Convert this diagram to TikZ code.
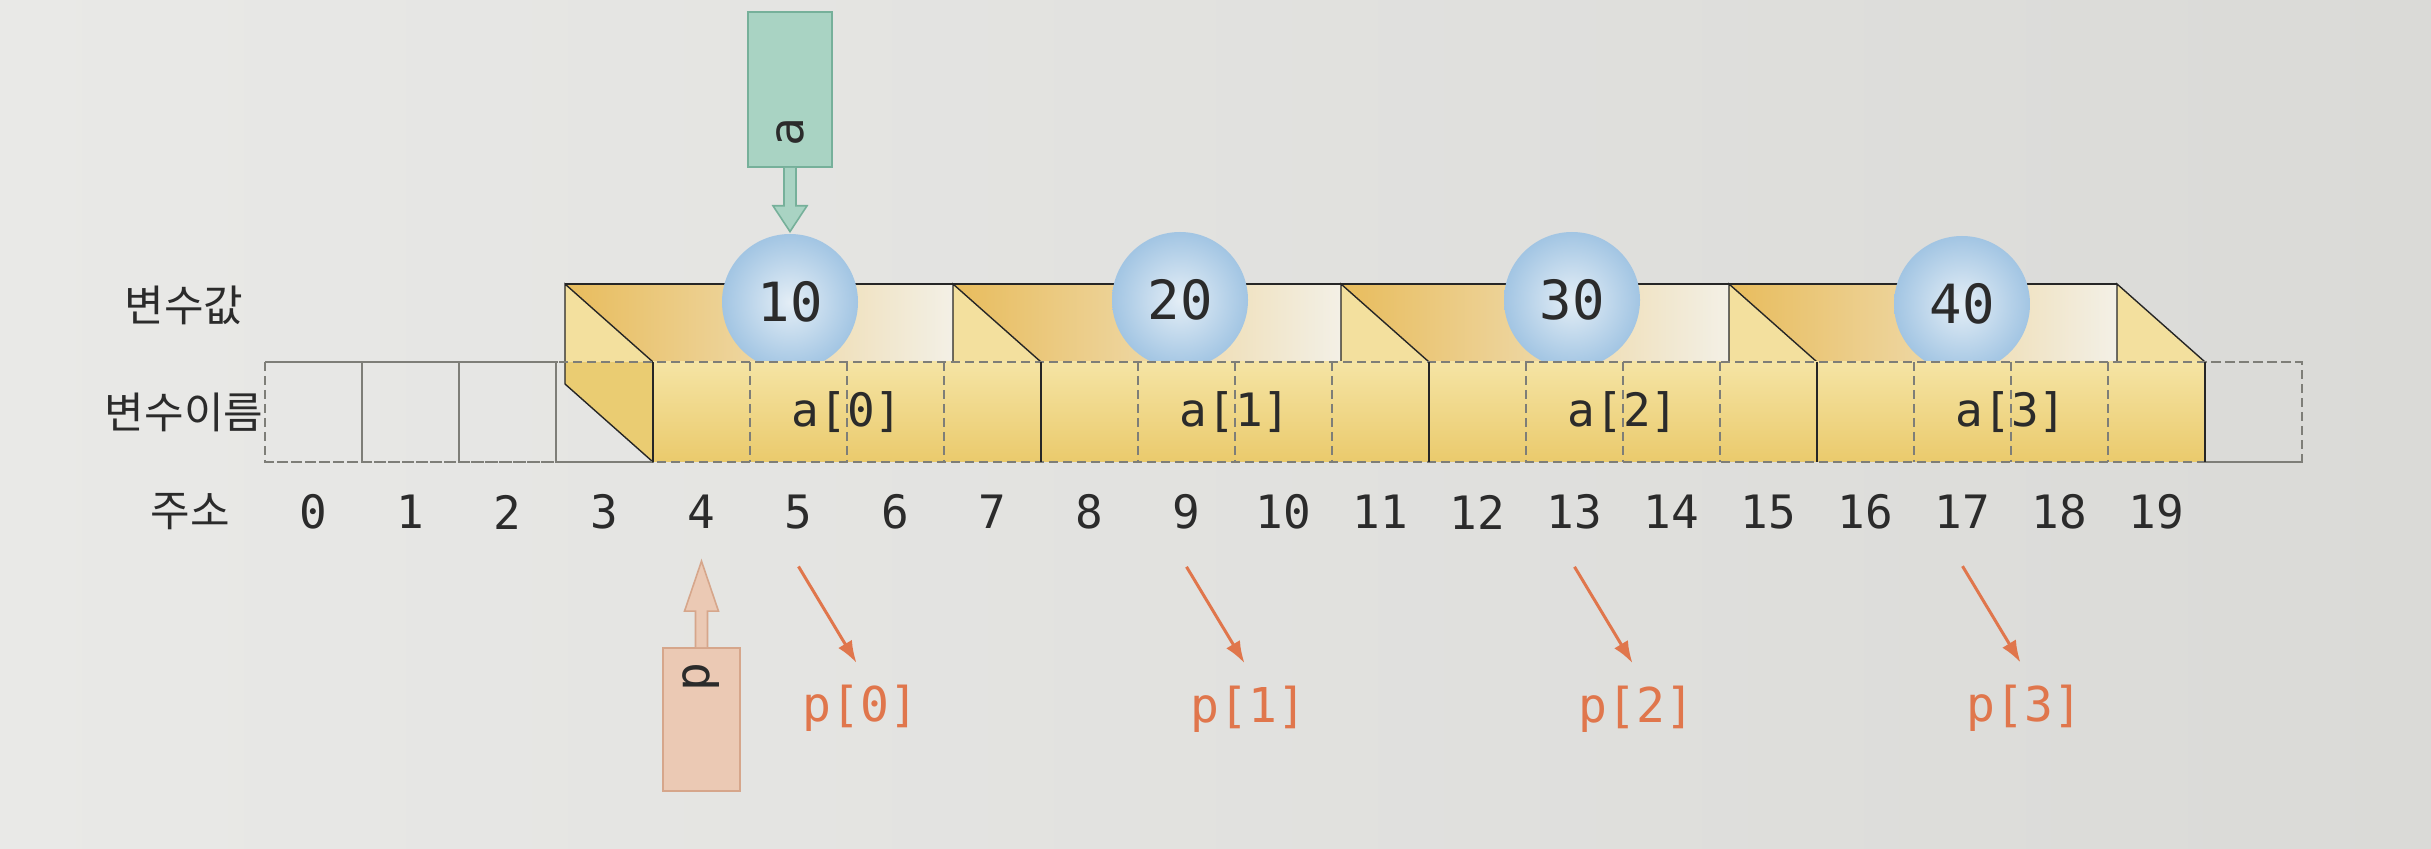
\documentclass[tikz,border=0pt]{standalone}
\usepackage{fontspec}
\setmainfont{DejaVu Sans}
\newfontfamily\kfont{Noto Sans CJK KR}
\newfontfamily\mfont{DejaVu Sans Mono}
\usetikzlibrary{arrows.meta,calc}
\definecolor{bgL}{HTML}{E9E9E7}
\definecolor{bgR}{HTML}{DADAD7}
\definecolor{faceTop}{HTML}{F5E4A4}
\definecolor{faceBot}{HTML}{EACA6C}
\definecolor{sideY}{HTML}{EACC72}
\definecolor{triY}{HTML}{F3E09E}
\definecolor{backO}{HTML}{E8BC5C}
\definecolor{backW}{HTML}{F3F0E6}
\definecolor{ballIn}{HTML}{E4EEF6}
\definecolor{ballOut}{HTML}{A2C5E3}
\definecolor{tealF}{HTML}{A9D3C3}
\definecolor{tealD}{HTML}{76B09A}
\definecolor{salF}{HTML}{EBC9B4}
\definecolor{salD}{HTML}{D6A68B}
\definecolor{orA}{HTML}{E0764C}
\definecolor{gridG}{HTML}{7E7E78}
\definecolor{txt}{HTML}{2B2B2B}
\begin{document}
\begin{tikzpicture}[x=0.5pt,y=-0.5pt,
  edge/.style={draw=black!85,line width=0.7pt},
  dgrid/.style={draw=gridG,line width=0.75pt,dash pattern=on 4.5pt off 2.5pt},
  ball/.style={circle,minimum size=68pt,inner sep=0pt,inner color=ballIn,outer color=ballOut,text=txt,font=\mfont\fontsize{27}{30}\selectfont},
  addr/.style={inner sep=0pt,text=txt,font=\mfont\fontsize{23}{27}\selectfont},
  alab/.style={inner sep=0pt,text=txt,font=\mfont\fontsize{23}{27}\selectfont},
  plab/.style={inner sep=0pt,text=orA,font=\mfont\fontsize{24}{28}\selectfont},
  klab/.style={inner sep=0pt,text=txt,font=\kfont\fontsize{21.5}{25}\selectfont},
  ptrlab/.style={inner sep=0pt,text=txt,rotate=90,font=\mfont\fontsize{24}{28}\selectfont},
  tealbox/.style={rectangle,draw=tealD,fill=tealF,line width=0.8pt,minimum width=42pt,minimum height=77.5pt,inner sep=0pt},
  salbox/.style={rectangle,draw=salD,fill=salF,line width=0.8pt,minimum width=38.5pt,minimum height=71.5pt,inner sep=0pt},
  parrow/.style={draw=orA,line width=1.5pt,-{Latex[length=11pt,width=8pt]}}
]
\useasboundingbox (0,0) rectangle (2431,849);
\shade[left color=bgL,right color=bgR] (0,0) rectangle (2431,849);

% dashed empty cells
\foreach \k in {0,...,3}{
  \draw[dgrid] ({265+97*\k},362) rectangle ({265+97*(\k+1)},462);
}
\draw[dgrid] (2205,362) rectangle (2302,462);

% back regions of each element
\foreach \k in {0,...,3}{
  \pgfmathsetmacro\bl{565+388*\k}
  \pgfmathsetmacro\fl{653+388*\k}
  \pgfmathsetmacro\br{953+388*\k}
  \shade[left color=backO,right color=backW] (\bl,284) -- (\br,284) -- (\br,362) -- (\fl,362) -- cycle;
}
% left outer face
\fill[sideY] (565,284) -- (653,362) -- (653,462) -- (565,384) -- cycle;
% inner triangles and lines
\foreach \j in {0,...,4}{
  \pgfmathsetmacro\bl{565+388*\j}
  \fill[triY] (\bl,284) -- (\bl,362) -- ({\bl+88},362) -- cycle;
  \draw[edge] (\bl,362) -- (\bl,284) -- ({\bl+88},362);
}
\draw[edge] (565,284) -- (2117,284);
\draw[edge] (565,362) -- (565,384) -- (653,462);

% value balls
\node[ball] (v0) at (790,302) {10};
\node[ball] (v1) at (1180,300) {20};
\node[ball] (v2) at (1572,300) {30};
\node[ball] (v3) at (1962,304) {40};

% front face
\shade[top color=faceTop,bottom color=faceBot] (653,362) rectangle (2205,462);
\foreach \j in {1,2,3,5,6,7,9,10,11,13,14,15}{
  \draw[dgrid] ({653+97*\j},362) -- ({653+97*\j},462);
}
\draw[dgrid] (265,362) -- (2302,362);
\draw[dgrid] (265,462) -- (2302,462);
\foreach \j in {0,...,4}{
  \draw[edge] ({653+388*\j},362) -- ({653+388*\j},462);
}

% element names
\foreach \k in {0,...,3}{
  \node[alab] (an\k) at ({847+388*\k},412) {a[\k]};
}

% row labels
\node[klab] (lv) at (184,305) {변수값};
\node[klab] (ln) at (184,412) {변수이름};
\node[klab] (la) at (190,512) {주소};

% addresses
\foreach \k in {0,...,19}{
  \node[addr] (n\k) at ({265+97*(\k+0.5)},512) {\k};
}

% pointer a
\node[tealbox] (aptr) at (790,89.5) {};
\node[ptrlab] (atxt) at ($(aptr.south)+(0,-36)$) {a};
\filldraw[fill=tealF,draw=tealD,line width=0.8pt]
  ($(aptr.south)+(-6,0)$) -- ($(aptr.south)+(-6,38)$) -- ($(aptr.south)+(-17,38)$)
  -- ($(v0.north)+(0,-2)$) -- ($(aptr.south)+(17,38)$) -- ($(aptr.south)+(6,38)$)
  -- ($(aptr.south)+(6,0)$);

% pointer p
\node[salbox] (pptr) at (701.5,719.5) {};
\node[ptrlab] (ptxt) at ($(pptr.north)+(0,30)$) {p};
\coordinate (ptip) at ($(n4.south)+(0,32)$);
\filldraw[fill=salF,draw=salD,line width=0.8pt]
  ($(pptr.north)+(-6,0)$) -- ($(pptr.north)+(-6,-36)$) -- ($(pptr.north)+(-17,-36)$)
  -- (ptip) -- ($(pptr.north)+(17,-36)$) -- ($(pptr.north)+(6,-36)$)
  -- ($(pptr.north)+(6,0)$);

% p[k] arrows
\foreach \k in {0,...,3}{
  \pgfmathtruncatemacro\idx{5+4*\k}
  \coordinate (ps\k) at ($(n\idx.south)+(0,37)$);
  \node[plab] (pl\k) at ($(ps\k)+(62,142)$) {p[\k]};
  \draw[parrow] (ps\k) -- ($(pl\k.north)+(-4,-22)$);
}
\end{tikzpicture}
\end{document}
